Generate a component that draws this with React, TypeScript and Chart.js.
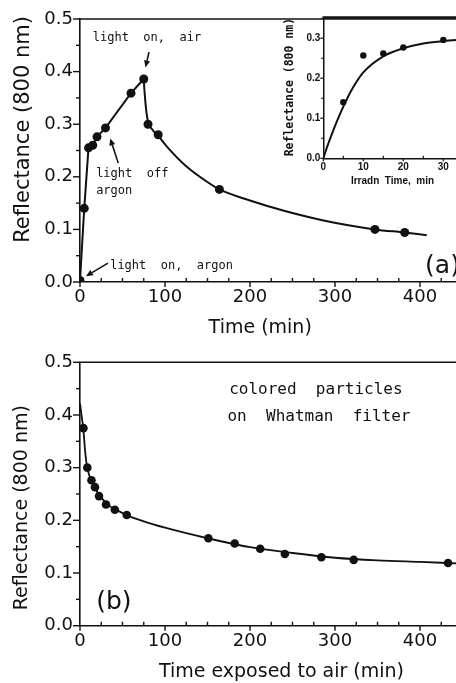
import React, { useEffect, useRef } from "react";
import { Chart, registerables } from "chart.js";

Chart.register(...registerables);

const INK = "#111111";

// Panel (a): irradiation under argon, then air admitted
const cycleTime = [0, 5, 10, 15, 20, 30, 60, 75];
const cycleRefl = [0.003, 0.14, 0.255, 0.26, 0.276, 0.293, 0.359, 0.386];
const airTime = [80, 92, 164, 347, 382];
const airRefl = [0.3, 0.28, 0.176, 0.1, 0.094];
const airFitTime = [75, 76, 78, 80, 85, 92, 102, 125, 149, 164, 200, 241, 298, 347, 382, 408];
const airFitRefl = [0.386, 0.36, 0.325, 0.305, 0.29, 0.278, 0.258, 0.22, 0.191, 0.176, 0.155, 0.135, 0.113, 0.1, 0.094, 0.089];

// Inset: reflectance growth under irradiation
const irradTime = [5, 10, 15, 20, 30];
const irradRefl = [0.14, 0.257, 0.262, 0.277, 0.296];
const irradFitTime = [0, 1, 2.5, 5, 7.5, 10, 15, 20, 25, 30, 35];
const irradFitRefl = [0, 0.03, 0.07, 0.129, 0.178, 0.215, 0.255, 0.275, 0.287, 0.293, 0.297];

// Panel (b): colored particles on filter, exposed to air
const exposeTime = [4, 8.6, 13.5, 17.6, 22.4, 30.6, 41, 55, 151, 182, 212, 241, 284, 322, 433];
const exposeRefl = [0.375, 0.3, 0.276, 0.263, 0.246, 0.23, 0.22, 0.21, 0.166, 0.156, 0.146, 0.136, 0.13, 0.125, 0.119];
const exposeFitTime = [0, 2, 4, 6, 8, 12, 18, 25, 35, 45, 55, 75, 100, 150, 200, 250, 300, 350, 400, 450];
const exposeFitRefl = [0.422, 0.397, 0.372, 0.332, 0.305, 0.28, 0.26, 0.243, 0.227, 0.218, 0.21, 0.198, 0.186, 0.166, 0.149, 0.138, 0.129, 0.124, 0.121, 0.118];

const reflTickLabels = ["0.0", "0.1", "0.2", "0.3", "0.4", "0.5"];
const timeTickLabels = ["0", "100", "200", "300", "400"];
const irradTickLabels = ["0", "10", "20", "30"];

const zip = (xs: number[], ys: number[]) => xs.map((x, i) => ({ x, y: ys[i] }));

type Pos = (c: any) => [number, number];
type Txt = { text: string; at: Pos; font: string; align?: CanvasTextAlign; vertical?: boolean };
type Arrow = { from: [number, number]; to: [number, number] };
type Decor = {
  xMinor: number; xMajor: number; yMinor: number; yMajor: number;
  xMajorLen: number; xMinorLen: number; yMajorLen: number; yMinorLen: number;
  tickWidth: number; topWidth: number; texts: Txt[]; arrows: Arrow[];
};

// position helpers, all resolved through the chart scales
const atData = (t: number, r: number): Pos => (c) => [c.scales.x.getPixelForValue(t), c.scales.y.getPixelForValue(r)];
const belowAxis = (t: number, dy: number): Pos => (c) => [c.scales.x.getPixelForValue(t), c.chartArea.bottom + dy];
const leftOfAxis = (dx: number, r: number): Pos => (c) => [c.chartArea.left - dx, c.scales.y.getPixelForValue(r)];

function decorPlugin(d: Decor) {
  return {
    id: "decor",
    afterDraw(chart: any) {
      const { ctx, chartArea: ca } = chart;
      const xs = chart.scales.x;
      const ys = chart.scales.y;
      ctx.save();
      ctx.strokeStyle = INK;
      ctx.fillStyle = INK;
      ctx.lineCap = "butt";

      // frame top
      ctx.lineWidth = d.topWidth;
      ctx.beginPath();
      ctx.moveTo(ca.left - 0.75, ca.top);
      ctx.lineTo(ca.right, ca.top);
      ctx.stroke();

      // x ticks: majors point outward, minors point inward
      ctx.lineWidth = d.tickWidth;
      const nx = Math.floor((xs.max - xs.min) / d.xMinor + 1e-6);
      for (let i = 0; i <= nx; i++) {
        const v = xs.min + i * d.xMinor;
        const px = xs.getPixelForValue(v);
        const major = Math.abs(v / d.xMajor - Math.round(v / d.xMajor)) < 1e-6;
        ctx.beginPath();
        ctx.moveTo(px, ca.bottom);
        ctx.lineTo(px, major ? ca.bottom + d.xMajorLen : ca.bottom - d.xMinorLen);
        ctx.stroke();
      }
      // y ticks: all on the outer side
      const ny = Math.floor((ys.max - ys.min) / d.yMinor + 1e-6);
      for (let i = 0; i <= ny; i++) {
        const v = ys.min + i * d.yMinor;
        const py = ys.getPixelForValue(v);
        const major = Math.abs(v / d.yMajor - Math.round(v / d.yMajor)) < 1e-6;
        ctx.beginPath();
        ctx.moveTo(ca.left, py);
        ctx.lineTo(ca.left - (major ? d.yMajorLen : d.yMinorLen), py);
        ctx.stroke();
      }

      // arrows
      for (const a of d.arrows) {
        const x0 = xs.getPixelForValue(a.from[0]);
        const y0 = ys.getPixelForValue(a.from[1]);
        const x1 = xs.getPixelForValue(a.to[0]);
        const y1 = ys.getPixelForValue(a.to[1]);
        const ang = Math.atan2(y1 - y0, x1 - x0);
        const head = 7;
        const half = 3;
        const bx = x1 - head * Math.cos(ang);
        const by = y1 - head * Math.sin(ang);
        ctx.lineWidth = 1.6;
        ctx.beginPath();
        ctx.moveTo(x0, y0);
        ctx.lineTo(bx, by);
        ctx.stroke();
        ctx.beginPath();
        ctx.moveTo(x1, y1);
        ctx.lineTo(bx + half * Math.sin(ang), by - half * Math.cos(ang));
        ctx.lineTo(bx - half * Math.sin(ang), by + half * Math.cos(ang));
        ctx.closePath();
        ctx.fill();
      }

      // text
      for (const t of d.texts) {
        const [px, py] = t.at(chart);
        ctx.font = t.font;
        ctx.textAlign = t.align || "center";
        ctx.textBaseline = "middle";
        if (t.vertical) {
          ctx.save();
          ctx.translate(px, py);
          ctx.rotate(-Math.PI / 2);
          ctx.fillText(t.text, 0, 0);
          ctx.restore();
        } else {
          ctx.fillText(t.text, px, py);
        }
      }
      ctx.restore();
    },
  };
}

const TICK_FONT = { family: "DejaVu Sans", size: 18 };
const MONO = "'DejaVu Sans Mono', monospace";

function baseOptions(o: {
  xMax: number; yMax: number; xStep: number; yStep: number;
  xLabels: string[]; yLabels: string[]; xLabelScale: number; yLabelScale: number;
  padTop: number; padRight: number; yWidth: number; xHeight: number;
  tickFont: any; xPad: number; yPad: number; border: number;
}) {
  return {
    responsive: false,
    animation: false,
    devicePixelRatio: 1,
    events: [],
    layout: { padding: { top: o.padTop, right: o.padRight, left: 0, bottom: 0 } },
    plugins: { legend: { display: false }, tooltip: { enabled: false }, title: { display: false } },
    scales: {
      x: {
        type: "linear",
        min: 0,
        max: o.xMax,
        afterFit: (s: any) => { s.height = o.xHeight; },
        grid: { display: false, drawTicks: false },
        border: { display: true, color: INK, width: o.border },
        ticks: {
          stepSize: o.xStep,
          includeBounds: false,
          autoSkip: false,
          maxRotation: 0,
          padding: o.xPad,
          color: INK,
          font: o.tickFont,
          callback: (v: any) => o.xLabels[Math.round(Number(v) / o.xLabelScale)] ?? "",
        },
      },
      y: {
        type: "linear",
        min: 0,
        max: o.yMax,
        afterFit: (s: any) => { s.width = o.yWidth; },
        grid: { display: false, drawTicks: false },
        border: { display: true, color: INK, width: o.border },
        ticks: {
          stepSize: o.yStep,
          includeBounds: false,
          autoSkip: false,
          padding: o.yPad,
          color: INK,
          font: o.tickFont,
          callback: (v: any) => o.yLabels[Math.round(Number(v) / o.yLabelScale)] ?? "",
        },
      },
    },
  };
}

const dots = (data: { x: number; y: number }[], r: number) => ({
  data,
  showLine: false,
  pointRadius: r,
  pointBackgroundColor: INK,
  pointBorderWidth: 0,
  order: 0,
});

const curve = (data: { x: number; y: number }[], w: number) => ({
  data,
  showLine: true,
  borderColor: INK,
  borderWidth: w,
  pointRadius: 0,
  cubicInterpolationMode: "monotone",
  order: 1,
});

function buildPanelA(canvas: HTMLCanvasElement) {
  return new Chart(canvas, {
    type: "scatter",
    data: {
      datasets: [
        {
          data: zip(cycleTime, cycleRefl),
          showLine: true,
          borderColor: INK,
          borderWidth: 2,
          tension: 0,
          pointRadius: 4.5,
          pointBackgroundColor: INK,
          pointBorderWidth: 0,
        },
        curve(zip(airFitTime, airFitRefl), 2),
        dots(zip(airTime, airRefl), 4.5),
      ],
    } as any,
    options: baseOptions({
      xMax: 450, yMax: 0.5, xStep: 100, yStep: 0.1,
      xLabels: timeTickLabels, yLabels: reflTickLabels, xLabelScale: 100, yLabelScale: 0.1,
      padTop: 19, padRight: 7.5, yWidth: 80, xHeight: 58,
      tickFont: TICK_FONT, xPad: 5, yPad: 7, border: 1.6,
    }) as any,
    plugins: [
      decorPlugin({
        xMinor: 25, xMajor: 100, yMinor: 0.05, yMajor: 0.1,
        xMajorLen: 5, xMinorLen: 4, yMajorLen: 7, yMinorLen: 4,
        tickWidth: 1.4, topWidth: 1.6,
        arrows: [
          { from: [81.2, 0.437], to: [77, 0.408] },
          { from: [45, 0.226], to: [35.5, 0.273] },
          { from: [33, 0.036], to: [7, 0.011] },
        ],
        texts: [
          { text: "light  on,  air", at: atData(15, 0.465), font: `12px ${MONO}`, align: "left" },
          { text: "light  off", at: atData(19, 0.205), font: `12px ${MONO}`, align: "left" },
          { text: "argon", at: atData(19, 0.173), font: `12px ${MONO}`, align: "left" },
          { text: "light  on,  argon", at: atData(35.5, 0.03), font: `12px ${MONO}`, align: "left" },
          { text: "(a)", at: atData(406, 0.03), font: "25px 'DejaVu Sans'", align: "left" },
          { text: "Time (min)", at: belowAxis(212, 46), font: "19px 'DejaVu Sans'" },
          { text: "Reflectance (800 nm)", at: leftOfAxis(56, 0.29), font: "21px 'DejaVu Sans'", vertical: true },
        ],
      }),
    ],
  });
}

function buildInset(canvas: HTMLCanvasElement) {
  return new Chart(canvas, {
    type: "scatter",
    data: {
      datasets: [
        curve(zip(irradFitTime, irradFitRefl), 2),
        dots(zip(irradTime, irradRefl), 3.2),
      ],
    } as any,
    options: baseOptions({
      xMax: 35, yMax: 0.352, xStep: 10, yStep: 0.1,
      xLabels: irradTickLabels, yLabels: reflTickLabels, xLabelScale: 10, yLabelScale: 0.1,
      padTop: 17.5, padRight: 6.7, yWidth: 43.3, xHeight: 41.7,
      tickFont: { family: "'Liberation Sans', Arial, sans-serif", size: 10, weight: "bold" },
      xPad: 3, yPad: 3, border: 1.5,
    }) as any,
    plugins: [
      decorPlugin({
        xMinor: 5, xMajor: 10, yMinor: 0.05, yMajor: 0.1,
        xMajorLen: 3, xMinorLen: 2.5, yMajorLen: 3, yMinorLen: 2,
        tickWidth: 1.2, topWidth: 2.4,
        arrows: [],
        texts: [
          { text: "Irradn  Time,  min", at: belowAxis(17.3, 23.4), font: "bold 10px 'Liberation Sans', Arial, sans-serif" },
          { text: "Reflectance (800 nm)", at: leftOfAxis(33.3, 0.178), font: `bold 11.5px ${MONO}`, vertical: true },
        ],
      }),
    ],
  });
}

function buildPanelB(canvas: HTMLCanvasElement) {
  return new Chart(canvas, {
    type: "scatter",
    data: {
      datasets: [
        curve(zip(exposeFitTime, exposeFitRefl), 1.8),
        dots(zip(exposeTime, exposeRefl), 4.3),
      ],
    } as any,
    options: baseOptions({
      xMax: 450, yMax: 0.5, xStep: 100, yStep: 0.1,
      xLabels: timeTickLabels, yLabels: reflTickLabels, xLabelScale: 100, yLabelScale: 0.1,
      padTop: 22.3, padRight: 7.5, yWidth: 80, xHeight: 57.3,
      tickFont: TICK_FONT, xPad: 5, yPad: 7, border: 1.6,
    }) as any,
    plugins: [
      decorPlugin({
        xMinor: 25, xMajor: 100, yMinor: 0.05, yMajor: 0.1,
        xMajorLen: 5, xMinorLen: 4, yMajorLen: 7, yMinorLen: 4,
        tickWidth: 1.4, topWidth: 1.6,
        arrows: [],
        texts: [
          { text: "colored  particles", at: atData(175.5, 0.447), font: `16px ${MONO}`, align: "left" },
          { text: "on  Whatman  filter", at: atData(173.5, 0.397), font: `16px ${MONO}`, align: "left" },
          { text: "(b)", at: atData(19, 0.044), font: "25px 'DejaVu Sans'", align: "left" },
          { text: "Time exposed to air (min)", at: belowAxis(237, 46), font: "19px 'DejaVu Sans'" },
          { text: "Reflectance (800 nm)", at: leftOfAxis(57.5, 0.224), font: "19px 'DejaVu Sans'", vertical: true },
        ],
      }),
    ],
  });
}

function ChartCanvas(props: { left: number; top: number; width: number; height: number; build: (c: HTMLCanvasElement) => Chart }) {
  const ref = useRef<HTMLCanvasElement>(null);
  useEffect(() => {
    const chart = props.build(ref.current!);
    return () => chart.destroy();
  }, []);
  return (
    <canvas
      ref={ref}
      width={props.width}
      height={props.height}
      style={{ position: "absolute", left: props.left, top: props.top, width: props.width, height: props.height }}
    />
  );
}

export default function App() {
  return (
    <div
      style={{
        position: "fixed",
        left: 0,
        top: 0,
        width: 456,
        height: 683,
        overflow: "hidden",
        background: "#ffffff",
      }}
    >
      <ChartCanvas left={0} top={0} width={470} height={340} build={buildPanelA} />
      <ChartCanvas left={280} top={0} width={190} height={200} build={buildInset} />
      <ChartCanvas left={0} top={340} width={470} height={343} build={buildPanelB} />
    </div>
  );
}
